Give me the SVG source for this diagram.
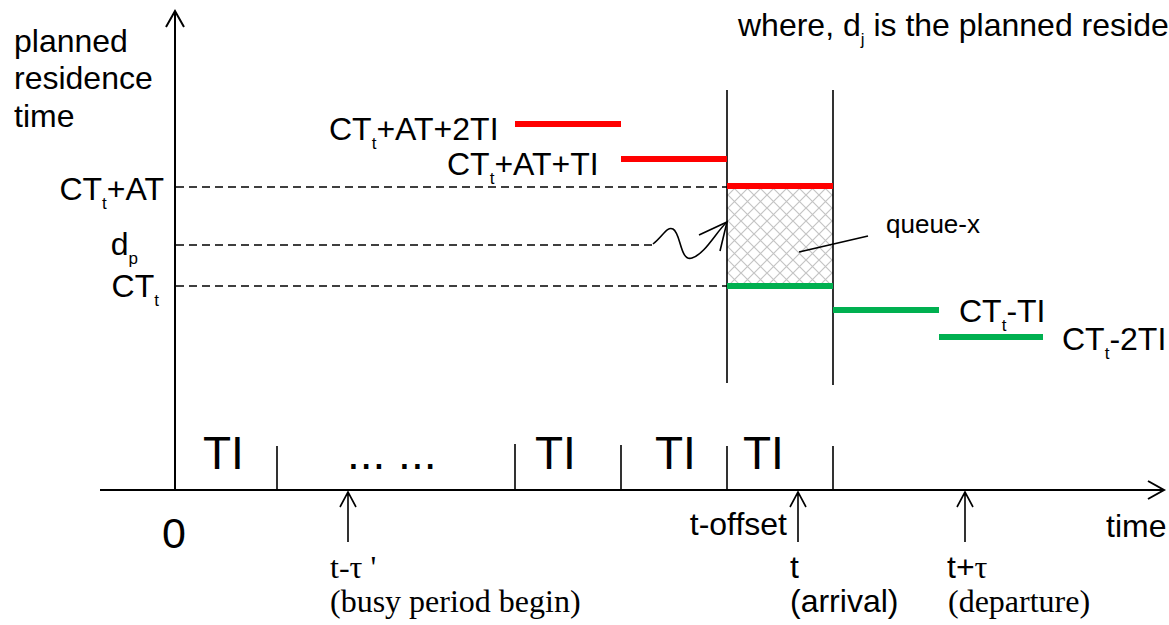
<svg xmlns="http://www.w3.org/2000/svg" width="1169" height="625" viewBox="0 0 1169 625">
<style>
.s{font-family:"Liberation Sans",Arial,sans-serif;fill:#000;}
.f{font-family:"Liberation Serif","Times New Roman",serif;fill:#000;}
.l{font-size:32px;}
.ti{font-size:46px;}
.sub{font-size:17px;}
.axis{stroke:#000;stroke-width:2;fill:none;}
.tick{stroke:#000;stroke-width:1.6;fill:none;}
.dash{stroke:#000;stroke-width:1.5;stroke-dasharray:8,5;fill:none;}
.red{stroke:#FF0000;stroke-width:6;}
.grn{stroke:#00B050;stroke-width:6;}
.thin{stroke:#000;stroke-width:1.6;fill:none;}
</style>
<defs>
<pattern id="hatch" width="13" height="13" patternUnits="userSpaceOnUse">
<path d="M0,0 L13,13 M13,0 L0,13" stroke="#c4c4c4" stroke-width="1.2"/>
</pattern>
</defs>
<rect width="1169" height="625" fill="#fff"/>

<g id="axes">
<path class="axis" d="M175,490 V11 M166,27 L175,11 L184,27"/>
<path class="axis" d="M100,490 H1164 M1148,481 L1164,490 L1148,499"/>
</g>

<g id="queue-box">
<rect x="727" y="189" width="106" height="96" fill="url(#hatch)"/>
<path class="tick" d="M727,90 V383 M833,90 V385"/>
</g>

<g id="connectors">
<path class="dash" d="M176,187 H727"/>
<path class="dash" d="M176,245 H652"/>
<path class="dash" d="M176,286 H727"/>
<path class="thin" d="M653,244 C663,236 667,226 673,229 C681,233 680,262 692,258 C705,254 716,232 727,222"/>
<path class="thin" d="M699,235 L727,222 L720,251"/>
<path class="thin" d="M799,252 L868,236"/>
<path class="tick" d="M277,446 V490 M515,444 V490 M621,445 V490 M727,446 V490 M833,446 V490"/>
<path class="thin" d="M348,492 V542 M340,507 L348,492 L356,507"/>
<path class="thin" d="M798,492 V542 M790,507 L798,492 L806,507"/>
<path class="thin" d="M965,492 V542 M957,507 L965,492 L973,507"/>
</g>

<g id="bars">
<line class="red" x1="515" y1="124" x2="621" y2="124"/>
<line class="red" x1="621" y1="159" x2="727" y2="159"/>
<line class="red" x1="727" y1="186" x2="833" y2="186"/>
<line class="grn" x1="727" y1="286" x2="833" y2="286"/>
<line class="grn" x1="833" y1="310" x2="939" y2="310"/>
<line class="grn" x1="939" y1="337" x2="1043" y2="337"/>
</g>

<g id="labels">
<text class="s l" x="14" y="52">planned</text>
<text class="s l" x="14" y="89">residence</text>
<text class="s l" x="14" y="127">time</text>
<text class="s l" x="738" y="36">where, d<tspan class="sub" dy="9">j</tspan><tspan dy="-9"> is the planned reside</tspan></text>
<text class="s l" x="329" y="140">CT<tspan class="sub" dy="9">t</tspan><tspan dy="-9">+AT+2TI</tspan></text>
<text class="s l" x="447" y="175">CT<tspan class="sub" dy="9">t</tspan><tspan dy="-9">+AT+TI</tspan></text>
<text class="s l" x="164" y="200" text-anchor="end">CT<tspan class="sub" dy="9">t</tspan><tspan dy="-9">+AT</tspan></text>
<text class="s l" x="138" y="255" text-anchor="end">d<tspan class="sub" dy="9">p</tspan></text>
<text class="s l" x="159" y="297" text-anchor="end">CT<tspan class="sub" dy="9">t</tspan></text>
<text class="s l" x="959" y="322">CT<tspan class="sub" dy="9">t</tspan><tspan dy="-9">-TI</tspan></text>
<text class="s l" x="1062" y="350">CT<tspan class="sub" dy="9">t</tspan><tspan dy="-9">-2TI</tspan></text>
<text class="s" x="886" y="233" font-size="26">queue-x</text>
<text class="s ti" x="203" y="469">TI</text>
<text class="s ti" x="347" y="469">... ...</text>
<text class="s ti" x="535" y="469">TI</text>
<text class="s ti" x="655" y="469">TI</text>
<text class="s ti" x="743" y="469">TI</text>
<text class="s" x="162" y="548" font-size="43">0</text>
<text class="s l" x="787" y="535" text-anchor="end">t-offset</text>
<text class="s l" x="1106" y="537">time</text>
<text class="f l" x="330" y="578">t-τ '</text>
<text class="f l" x="330" y="612">(busy period begin)</text>
<text class="s l" x="790" y="578">t</text>
<text class="s l" x="790" y="612">(arrival)</text>
<text class="s l" x="947" y="578">t+<tspan class="f">τ</tspan></text>
<text class="f l" x="948" y="612">(departure)</text>
</g>
</svg>
